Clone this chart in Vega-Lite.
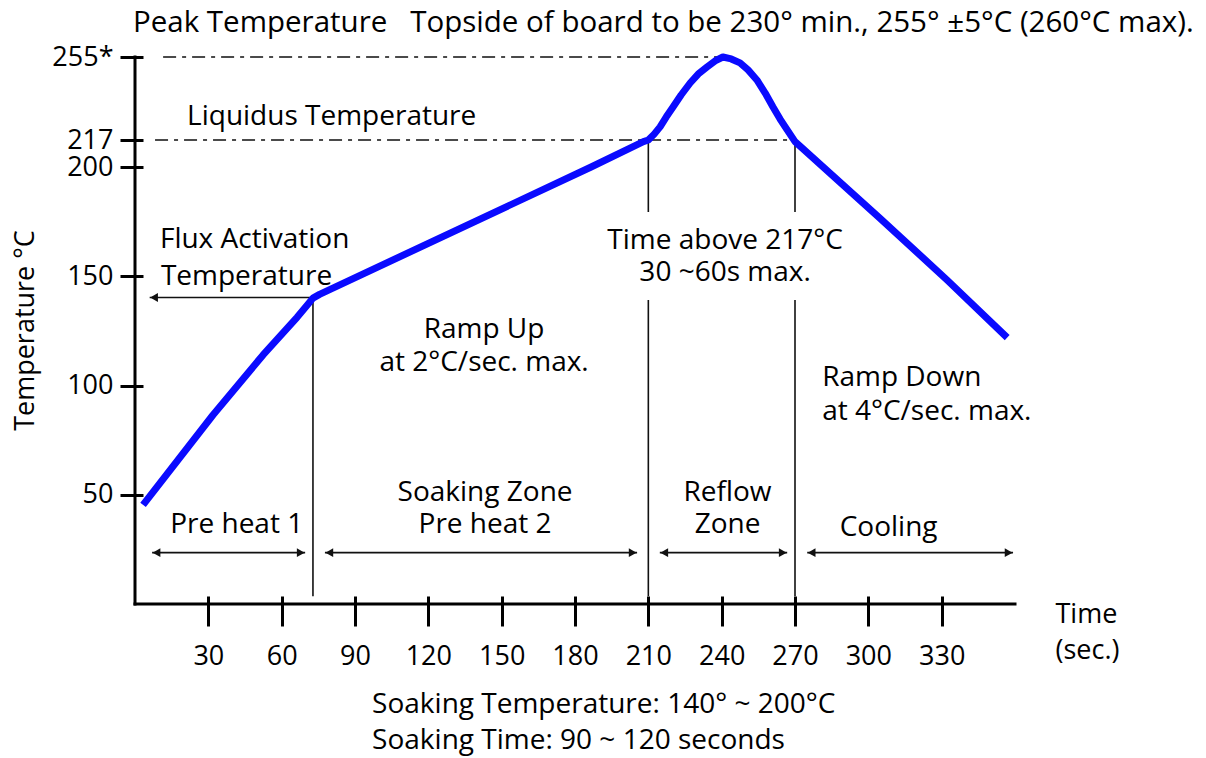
{
  "$schema": "https://vega.github.io/schema/vega-lite/v6.json",
  "autosize": "none",
  "width": 880,
  "height": 547,
  "padding": {"left": 135, "top": 57, "right": 191, "bottom": 154},
  "background": "white",
  "config": {"view": {"stroke": null}, "font": "Open Sans"},
  "title": {
    "text": "Peak Temperature\u00a0\u00a0\u00a0Topside of board to be 230° min., 255° ±5°C (260°C max).",
    "anchor": "start", "frame": "group", "orient": "top",
    "font": "Open Sans", "fontSize": 29.5, "fontWeight": "normal", "color": "#000",
    "offset": 5, "dx": -2
  },
  "encoding": {
    "x": {
      "field": "t", "type": "quantitative",
      "scale": {"domain": [0, 360], "nice": false, "zero": false},
      "axis": {
        "values": [30, 60, 90, 120, 150, 180, 210, 240, 270, 300, 330],
        "domain": false, "grid": false, "offset": -8,
        "tickSize": 30, "tickWidth": 3, "tickColor": "#000",
        "labelFont": "Open Sans", "labelFontSize": 27, "labelColor": "#000", "labelPadding": 17,
        "title": ["Time", "(sec.)"], "titleFont": "Open Sans", "titleFontSize": 27,
        "titleFontWeight": "normal", "titleColor": "#000",
        "titleX": 920, "titleY": 26, "titleAlign": "left", "titleBaseline": "alphabetic",
        "titleLineHeight": 36, "titleAngle": 0
      }
    },
    "y": {
      "field": "T", "type": "quantitative",
      "scale": {"domain": [0, 200, 217, 255], "range": [547, 110, 83, 0], "nice": false, "zero": false},
      "axis": {
        "values": [50, 100, 150, 200, 217, 255],
        "labelExpr": "datum.value == 255 ? '255*' : datum.label",
        "domain": false, "grid": false, "offset": -8,
        "tickSize": 23, "tickWidth": 3, "tickColor": "#000",
        "labelFont": "Open Sans", "labelFontSize": 27, "labelColor": "#000", "labelPadding": 7,
        "title": "Temperature °C", "titleFont": "Open Sans", "titleFontSize": 27,
        "titleFontWeight": "normal", "titleColor": "#000",
        "titleX": -118, "titleY": 273, "titleAngle": -90, "titleAlign": "center", "titleBaseline": "middle"
      }
    }
  },
  "layer": [
    {
      "data": {"values": [
        {"t": 11.5, "t2": 244.7, "T": 255},
        {"t": 8.2, "t2": 270, "T": 217}
      ]},
      "mark": {"type": "rule", "color": "#4a4a4a", "strokeWidth": 2, "strokeDash": [13, 6, 4, 6]},
      "encoding": {"x2": {"field": "t2"}}
    },
    {
      "data": {"values": [
        {"t": 72.8, "T": 140, "T2": 3.5},
        {"t": 210, "T": 217, "T2": 179.4},
        {"t": 210, "T": 139.1, "T2": 3.5},
        {"t": 270, "T": 216, "T2": 179.4},
        {"t": 270, "T": 139.1, "T2": 3.5}
      ]},
      "mark": {"type": "rule", "color": "#111", "strokeWidth": 1.6},
      "encoding": {"y2": {"field": "T2"}}
    },
    {
      "data": {"values": [
        {"t": 6, "t2": 72.8, "T": 140.3},
        {"t": 7, "t2": 69.6, "T": 23.5},
        {"t": 77.7, "t2": 205.4, "T": 23.5},
        {"t": 214.7, "t2": 266.8, "T": 23.5},
        {"t": 275, "t2": 359.2, "T": 23.5}
      ]},
      "mark": {"type": "rule", "color": "#111", "strokeWidth": 1.6},
      "encoding": {"x2": {"field": "t2"}}
    },
    {
      "data": {"values": [
        {"t": 7.8, "T": 140.3, "dir": "left"},
        {"t": 8.8, "T": 23.5, "dir": "left"},
        {"t": 67.8, "T": 23.5, "dir": "right"},
        {"t": 79.5, "T": 23.5, "dir": "left"},
        {"t": 203.6, "T": 23.5, "dir": "right"},
        {"t": 216.5, "T": 23.5, "dir": "left"},
        {"t": 265, "T": 23.5, "dir": "right"},
        {"t": 276.8, "T": 23.5, "dir": "left"},
        {"t": 357.4, "T": 23.5, "dir": "right"}
      ]},
      "mark": {"type": "point", "filled": true, "color": "#111", "size": 80, "opacity": 1},
      "encoding": {
        "shape": {"field": "dir", "type": "nominal", "scale": {"domain": ["left", "right"], "range": ["triangle-left", "triangle-right"]}, "legend": null}
      }
    },
    {
      "data": {"values": [
        {"t": 0, "t2": 360, "T": 0, "T2": 0},
        {"t": 0, "t2": 0, "T": 0, "T2": 255}
      ]},
      "mark": {"type": "rule", "color": "#000", "strokeWidth": 3, "strokeCap": "square"},
      "encoding": {"x2": {"field": "t2"}, "y2": {"field": "T2"}}
    },
    {
      "data": {"values": [
        {"t": 3.3, "T": 45.4}, {"t": 31.9, "T": 86.5}, {"t": 52.4, "T": 114}, {"t": 66.3, "T": 131.2},
        {"t": 70.5, "T": 136.8}, {"t": 72.8, "T": 140}, {"t": 75.5, "T": 141.7},
        {"t": 186.6, "T": 200}, {"t": 208, "T": 216}, {"t": 210, "T": 217},
        {"t": 212.4, "T": 219.7}, {"t": 214.8, "T": 223}, {"t": 217.3, "T": 227.5}, {"t": 220.1, "T": 232.1},
        {"t": 223.4, "T": 237.6}, {"t": 227.1, "T": 243.1}, {"t": 230.4, "T": 247.2}, {"t": 234, "T": 250.4},
        {"t": 237.3, "T": 253.2}, {"t": 240.5, "T": 255}, {"t": 243.9, "T": 254.1}, {"t": 247.5, "T": 252.3},
        {"t": 250.8, "T": 249.1}, {"t": 254.4, "T": 244.5}, {"t": 257.8, "T": 238.5}, {"t": 261, "T": 232.1},
        {"t": 263.9, "T": 226.6}, {"t": 266.8, "T": 221.6}, {"t": 270, "T": 216}, {"t": 272.5, "T": 212.5},
        {"t": 304.8, "T": 176.5}, {"t": 332.2, "T": 148.3}, {"t": 356.8, "T": 121.9}
      ]},
      "mark": {"type": "line", "color": "#0a0aff", "strokeWidth": 7, "interpolate": "linear", "strokeCap": "butt", "strokeJoin": "round"}
    },
    {
      "data": {"name": "notesLeft", "values": [
        {"t": 21.3, "T": 227.5, "label": "Liquidus Temperature"},
        {"t": 10.2, "T": 166.5, "label": "Flux Activation"},
        {"t": 10.6, "T": 149.7, "label": "Temperature"},
        {"t": 281.1, "T": 103.5, "label": "Ramp Down"},
        {"t": 281.1, "T": 87.9, "label": "at 4°C/sec. max."},
        {"t": 97, "T": -46, "label": "Soaking Temperature: 140° ~ 200°C"},
        {"t": 97, "T": -62.9, "label": "Soaking Time: 90 ~ 120 seconds"}
      ]},
      "mark": {"type": "text", "align": "left", "baseline": "middle", "font": "Open Sans", "fontSize": 28, "color": "#000"},
      "encoding": {"text": {"field": "label"}}
    },
    {
      "data": {"name": "notesCenter", "values": [
        {"t": 142.8, "T": 125.3, "label": "Ramp Up"},
        {"t": 142.8, "T": 110.4, "label": "at 2°C/sec. max."},
        {"t": 241.4, "T": 166.1, "label": "Time above 217°C"},
        {"t": 241.4, "T": 151.5, "label": "30 ~60s max."},
        {"t": 41.6, "T": 36.3, "label": "Pre heat 1"},
        {"t": 143.2, "T": 50.9, "label": "Soaking Zone"},
        {"t": 143.2, "T": 36.3, "label": "Pre heat 2"},
        {"t": 242.4, "T": 50.9, "label": "Reflow"},
        {"t": 242.4, "T": 36.3, "label": "Zone"},
        {"t": 308.3, "T": 34.9, "label": "Cooling"}
      ]},
      "mark": {"type": "text", "align": "center", "baseline": "middle", "font": "Open Sans", "fontSize": 28, "color": "#000"},
      "encoding": {"text": {"field": "label"}}
    }
  ]
}
